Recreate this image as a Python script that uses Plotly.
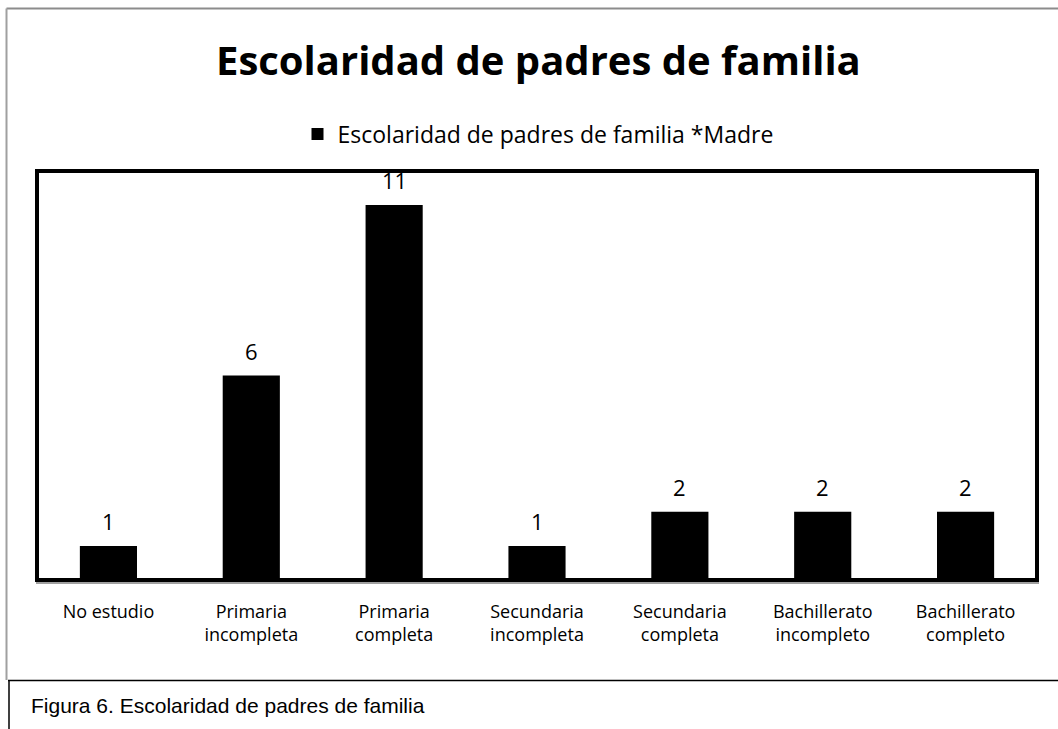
import plotly.graph_objects as go

categories = ["No estudio", "Primaria<br>incompleta", "Primaria<br>completa",
              "Secundaria<br>incompleta", "Secundaria<br>completa",
              "Bachillerato<br>incompleto", "Bachillerato<br>completo"]
values = [1, 6, 11, 1, 2, 2, 2]
series_name = "Escolaridad de padres de familia *Madre"
title_text = "Escolaridad de padres de familia"
caption_text = "Figura 6. Escolaridad de padres de familia"

FONT = "'Open Sans', 'Noto Sans', sans-serif"

fig = go.Figure()
fig.add_trace(go.Bar(
    x=categories, y=values, name=series_name,
    marker=dict(color="black", line=dict(color="black", width=0)),
    showlegend=True,
))

for c, v in zip(categories, values):
    fig.add_annotation(x=c, y=v, xref="x", yref="y", text=str(v),
                       showarrow=False, yanchor="bottom", yshift=8,
                       font=dict(size=22, color="black", family=FONT))

L, R, T, B = 37, 1037, 171, 580
W, H = 1058, 729
def px(x): return (x - L) / (R - L)
def py(y): return (B - y) / (B - T)

shapes = [
    # plot box
    dict(type="rect", xref="paper", yref="paper", x0=0, x1=1, y0=0, y1=1,
         line=dict(color="black", width=4), layer="above"),
    # gray line under bottom
    dict(type="line", xref="paper", yref="paper", x0=px(36), x1=px(1039), y0=py(583), y1=py(583),
         line=dict(color="#808080", width=1.5), layer="above"),
    # outer gray border
    dict(type="line", xref="paper", yref="paper", x0=px(6.5), x1=px(1060), y0=py(8.5), y1=py(8.5),
         line=dict(color="#8c8c8c", width=2)),
    dict(type="line", xref="paper", yref="paper", x0=px(6.5), x1=px(6.5), y0=py(8.5), y1=py(680),
         line=dict(color="#a0a0a0", width=2)),
    # caption box lines
    dict(type="line", xref="paper", yref="paper", x0=px(8), x1=px(1060), y0=py(680.5), y1=py(680.5),
         line=dict(color="black", width=1.5)),
    dict(type="line", xref="paper", yref="paper", x0=px(9), x1=px(9), y0=py(680), y1=py(735),
         line=dict(color="black", width=1.5)),
]

fig.add_annotation(xref="paper", yref="paper", x=px(29), y=py(705), text=caption_text,
                   showarrow=False, xanchor="left", yanchor="middle",
                   font=dict(size=21, color="black", family="Liberation Sans, Arial, sans-serif"))

fig.add_annotation(xref="paper", yref="paper", x=px(538), y=py(59), text="<b>" + title_text + "</b>",
                   showarrow=False, xanchor="center", yanchor="middle",
                   font=dict(size=40, color="black", family=FONT))

fig.update_layout(
    width=W, height=H,
    margin=dict(l=L, r=W - R, t=T, b=H - B, pad=0),
    paper_bgcolor="white", plot_bgcolor="white",
    bargap=0.6,
    shapes=shapes,
    font=dict(family=FONT, color="black"),
    legend=dict(orientation="h", x=px(538), xanchor="center", y=py(134), yanchor="middle",
                font=dict(size=23, family=FONT, color="black"), itemwidth=30,
                bgcolor="rgba(0,0,0,0)"),
    xaxis=dict(showgrid=False, showline=False, ticks="", zeroline=False,
               tickfont=dict(size=18, family=FONT, color="black"), ticklabelstandoff=19),
    yaxis=dict(range=[0, 12], showgrid=False, showticklabels=False, zeroline=False,
               showline=False, ticks=""),
)

fig.write_html("out.html")
